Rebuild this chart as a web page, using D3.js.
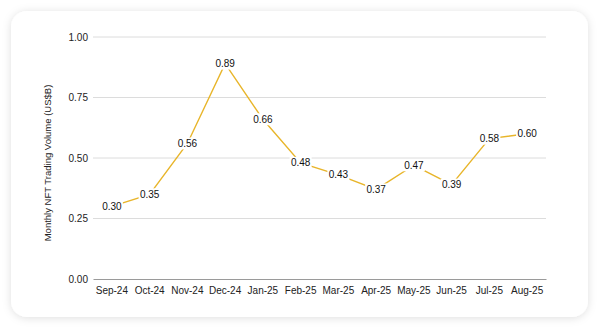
<!DOCTYPE html>
<html><head><meta charset="utf-8">
<script src="https://cdn.jsdelivr.net/npm/d3@7"></script>
<style>
html,body{margin:0;padding:0;background:#fff;}
svg{display:block;}
</style></head>
<body>
<svg id="c" width="600" height="329"></svg>
<script>
const months = ["Sep-24","Oct-24","Nov-24","Dec-24","Jan-25","Feb-25","Mar-25","Apr-25","May-25","Jun-25","Jul-25","Aug-25"];
const volumes = [0.30,0.35,0.56,0.89,0.66,0.48,0.43,0.37,0.47,0.39,0.58,0.60];
const yTicks = [0,0.25,0.5,0.75,1.0];
const yTitle = "Monthly NFT Trading Volume (US$B)";

const svg = d3.select("#c");
const defs = svg.append("defs");
const f = defs.append("filter").attr("id","sh").attr("x","-10%").attr("y","-10%").attr("width","120%").attr("height","120%");
f.append("feDropShadow").attr("dx",0).attr("dy",1).attr("stdDeviation",4).attr("flood-color","#000").attr("flood-opacity",0.13);

svg.append("rect").attr("x",11).attr("y",11).attr("width",577).attr("height",306)
  .attr("rx",16).attr("fill","#fff").attr("filter","url(#sh)");

const x = d3.scaleBand().domain(months).range([93,546]);
const y = d3.scaleLinear().domain([0,1]).range([279,37]);
const font = "Liberation Sans, Arial, sans-serif";

// gridlines
svg.append("g").selectAll("line").data(yTicks.filter(d=>d>0)).join("line")
  .attr("x1",93).attr("x2",546).attr("y1",d=>y(d)).attr("y2",d=>y(d))
  .attr("stroke","#dcdcdc").attr("stroke-width",1);

// y axis labels
const ya = svg.append("g").attr("transform","translate(88,0)")
  .call(d3.axisLeft(y).tickValues(yTicks).tickFormat(d3.format(".2f")).tickSize(0).tickPadding(0));
ya.select(".domain").remove();
ya.selectAll("text").attr("font-family",font).attr("font-size",10).attr("fill","#222");

// x axis
const xa = svg.append("g").attr("transform","translate(0,279)")
  .call(d3.axisBottom(x).tickSize(0).tickPadding(8));
xa.select(".domain").attr("stroke","#9a9a9a").attr("stroke-width",1.2);
xa.selectAll("text").attr("font-family",font).attr("font-size",10).attr("fill","#222");

// y title
svg.append("text").attr("transform","translate(51,163) rotate(-90)")
  .attr("text-anchor","middle").attr("font-family",font).attr("font-size",9.5).attr("fill","#222")
  .text(yTitle);

const cx = d => x(d) + x.bandwidth()/2;
const data = months.map((m,i)=>({m, v: volumes[i]}));

svg.append("path").datum(data)
  .attr("d", d3.line().x(d=>cx(d.m)).y(d=>y(d.v)))
  .attr("fill","none").attr("stroke","#E8B52A").attr("stroke-width",1.4);

const lg = svg.append("g").selectAll("g").data(data).join("g")
  .attr("transform", d=>`translate(${cx(d.m)},${y(d.v)})`);
lg.append("rect").attr("x",-11).attr("y",-6).attr("width",22).attr("height",12).attr("fill","#fff");
lg.append("text").attr("text-anchor","middle").attr("dy","0.35em")
  .attr("font-family",font).attr("font-size",10).attr("fill","#111")
  .text(d=>d.v.toFixed(2));
</script>
</body></html>
